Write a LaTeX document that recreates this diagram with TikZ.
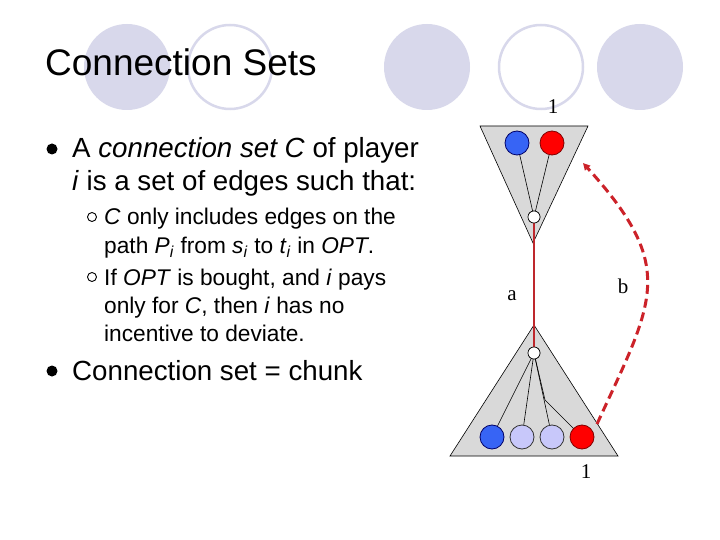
\documentclass[tikz,border=0pt]{standalone}
\usepackage{fontspec}
\setmainfont{Liberation Sans}
\newfontfamily\serifnum{Liberation Serif}
\usetikzlibrary{arrows.meta}
\definecolor{deco}{RGB}{216,216,235}
\definecolor{trigray}{RGB}{217,217,217}
\definecolor{pblue}{RGB}{55,100,245}
\definecolor{plav}{RGB}{200,200,250}
\definecolor{pred}{RGB}{255,0,0}
\definecolor{redline}{RGB}{190,40,45}
\definecolor{dashred}{RGB}{204,34,41}
\tikzset{
  txt/.style={anchor=base west, inner sep=0pt, font=\fontsize{27.7}{33}\selectfont},
  subtxt/.style={anchor=base west, inner sep=0pt, font=\fontsize{22.7}{27}\selectfont},
  lbl/.style={inner sep=0pt, font=\serifnum\fontsize{21}{24}\selectfont},
  ball/.style={circle, minimum size=24pt, inner sep=0pt, line width=0.8pt},
  blueball/.style={ball, fill=pblue, draw=blue!40!black},
  redball/.style={ball, fill=pred, draw=red!50!black},
  lavball/.style={ball, fill=plav, draw=black!80},
  wnode/.style={circle, minimum size=12pt, inner sep=0pt, fill=white, draw=black, line width=0.6pt},
  tri/.style={fill=trigray, draw=black, line width=0.6pt},
  edge/.style={draw=black, line width=0.6pt}
}
\begin{document}
\begin{tikzpicture}[x=1pt,y=-1pt]
\useasboundingbox (0,0) rectangle (720,540);
\fill[white] (0,0) rectangle (720,540);
% decorative circles
\fill[deco] (127,67) circle[radius=43pt];
\draw[deco, line width=2.5pt] (230,67) circle[radius=42pt];
\fill[deco] (427,67) circle[radius=43pt];
\draw[deco, line width=2.5pt] (541,67) circle[radius=42pt];
\fill[deco] (640,67) circle[radius=43pt];
% title
\node[anchor=base west, inner sep=0pt, font=\fontsize{37}{44}\selectfont] (title) at (45,76) {Connection Sets};
% bullets
\fill[black] (52,149) circle[radius=5.5pt];
\node[txt] (l1) at (72,158) {A \textit{connection set C} of player};
\node[txt] (l2) at (72,191) {\textit{i} is a set of edges such that:};
\draw[black, line width=0.9pt] (92,217) circle[radius=4.5pt];
\node[subtxt] (s1) at (104,225) {\textit{C} only includes edges on the};
\node[subtxt] (s2) at (104,253) {path \textit{P}\textsubscript{\textit{i}} from \textit{s}\textsubscript{\textit{i}} to \textit{t}\textsubscript{\textit{i}} in \textit{OPT}.};
\draw[black, line width=0.9pt] (92,277) circle[radius=4.5pt];
\node[subtxt] (s3) at (104,285) {If \textit{OPT} is bought, and \textit{i} pays};
\node[subtxt] (s4) at (104,313) {only for \textit{C}, then \textit{i} has no};
\node[subtxt] (s5) at (104,341) {incentive to deviate.};
\fill[black] (52,371) circle[radius=5.5pt];
\node[txt] (l3) at (72,380) {Connection set = chunk};
% top triangle
\draw[tri] (480,126) -- (588,126) -- (533,243) -- cycle;
% bottom triangle
\draw[tri] (534,325) -- (618,456) -- (450,456) -- cycle;
% nodes
\node[wnode] (tw) at (534,217) {};
\node[wnode] (bw) at (534,353) {};
\draw[redline, line width=2pt] (tw) -- (bw);
\node[wnode] at (534,217) {};
\node[wnode] at (534,353) {};
\node[blueball] (t1) at (517,143) {};
\node[redball] (t2) at (552,143) {};
\draw[edge] (tw) -- (t1);
\draw[edge] (tw) -- (t2);
\coordinate (bend) at (545,400);
\node[blueball] (b1) at (492,437) {};
\node[lavball] (b2) at (522,437) {};
\node[lavball] (b3) at (552,437) {};
\node[redball] (b4) at (582,437) {};
\draw[edge] (bw) -- (b1);
\draw[edge] (bw) -- (b2);
\draw[edge] (bw) -- (b3);
\draw[edge] (bw) -- (bend) -- (b4);
% dashed deviation
\coordinate (ds) at (597,424);
\coordinate (de) at (583,163);
\draw[dashred, line width=3pt, dash pattern=on 9pt off 5pt, -{Triangle[length=7pt,width=7pt]}]
  (ds) .. controls (654,300) and (678,268) .. (de);
% labels
\node[lbl] (n1) at (553,107) {1};
\node[lbl] (la) at (512,296) {a};
\node[lbl] (lb) at (623,286) {b};
\node[lbl] (n2) at (586,472) {1};
\end{tikzpicture}
\end{document}
